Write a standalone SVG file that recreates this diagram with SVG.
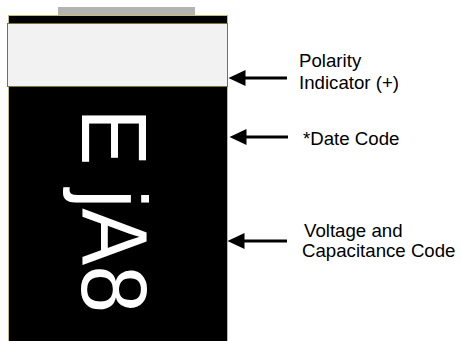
<svg xmlns="http://www.w3.org/2000/svg" width="461" height="341" viewBox="0 0 461 341">
<style>
.lbl{font-family:"Liberation Sans",Arial,sans-serif;font-size:18.67px;fill:#000}
.mark{font-family:"Liberation Sans",Arial,sans-serif;font-size:92px;fill:#fff}
.arr{stroke:#000;stroke-width:3;fill:none}
</style>
<defs>
<marker id="ah" markerUnits="userSpaceOnUse" markerWidth="18" markerHeight="17" refX="0.5" refY="8" orient="auto" viewBox="0 0 18 16">
<path d="M0,0 L17,8 L0,16 Z" fill="#000"/>
</marker>
</defs>
<rect width="461" height="341" fill="#fff"/>
<g id="capacitor">
<rect x="58" y="7" width="137" height="8.5" fill="#b3b3b3"/>
<rect x="8.5" y="15.5" width="219" height="330" fill="#000" stroke="#c9bc72" stroke-width="1"/>
<rect x="7.5" y="23.5" width="220" height="63" fill="#f2f2f2" stroke="#7f7330" stroke-width="1"/>
<text class="mark" transform="translate(82,115) rotate(90) scale(0.93,1)" x="-7" y="0">E jA8</text>
</g>
<g id="connectors">
<line class="arr" x1="287" y1="78" x2="245" y2="78" marker-end="url(#ah)"/>
<line class="arr" x1="288" y1="137" x2="246" y2="137" marker-end="url(#ah)"/>
<line class="arr" x1="287" y1="241" x2="244" y2="241" marker-end="url(#ah)"/>
</g>
<g id="label-polarity">
<text class="lbl" x="299" y="67">Polarity</text>
<text class="lbl" x="299" y="89">Indicator (+)</text>
</g>
<g id="label-date">
<text class="lbl" x="303" y="145">*Date Code</text>
</g>
<g id="label-voltage">
<text class="lbl" x="304" y="237">Voltage and</text>
<text class="lbl" x="302" y="257">Capacitance Code</text>
</g>
</svg>
